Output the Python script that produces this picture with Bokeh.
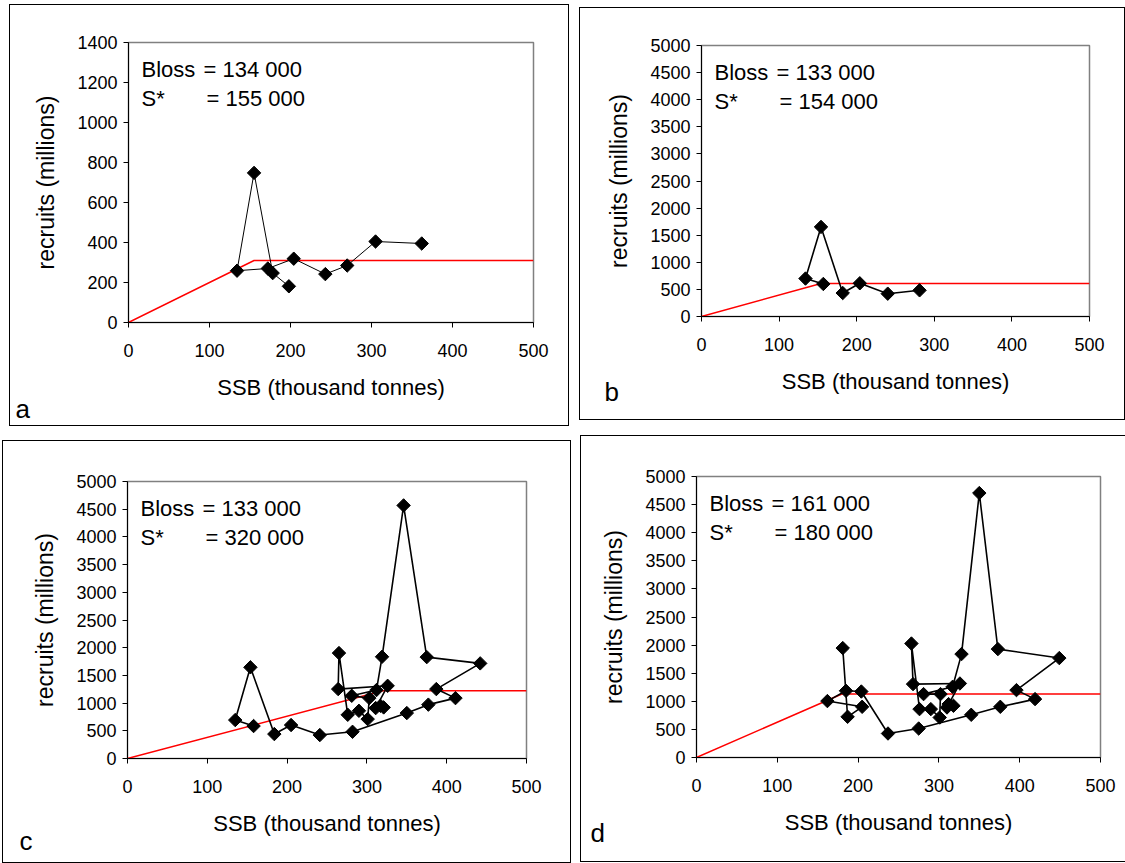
from bokeh.plotting import figure
from bokeh.models import Range1d, Label, FixedTicker, Spacer
from bokeh.layouts import column, row
from bokeh.embed import file_html
from bokeh.resources import INLINE

FONT = "Liberation Sans"

# ---------------- data ----------------
X_TICKS = [0, 100, 200, 300, 400, 500]
A_Y_TICKS = [0, 200, 400, 600, 800, 1000, 1200, 1400]
BCD_Y_TICKS = [0, 500, 1000, 1500, 2000, 2500, 3000, 3500, 4000, 4500, 5000]

A_SSB = [198, 178, 155, 134, 172, 204, 243, 270, 305, 362]
A_REC = [181, 247, 748, 259, 270, 319, 242, 285, 405, 395]

B_SSB = [157, 134, 154, 182, 204, 240, 281]
B_REC = [600, 700, 1653, 433, 613, 421, 483]

C_SSB = [158, 135, 154, 184, 205, 241, 282, 350, 377, 411, 387, 442, 375, 346, 319,
         312, 281, 303, 301, 290, 276, 265, 264, 326, 311, 321, 317]
C_REC = [586, 694, 1646, 441, 604, 423, 482, 820, 972, 1090, 1253, 1717, 1830, 4568, 1836,
         1235, 1132, 1090, 711, 861, 789, 1903, 1253, 1312, 910, 922, 951]

D_SSB = [181, 187, 205, 162, 185, 204, 237, 275, 340, 376, 419, 396, 449, 373, 350,
         328, 317, 281, 302, 301, 290, 276, 266, 268, 326, 310, 318, 312]
D_REC = [1947, 724, 902, 1004, 1187, 1174, 427, 516, 760, 902, 1039, 1199, 1769, 1929, 4705,
         1840, 1258, 1128, 1128, 712, 861, 861, 2028, 1306, 1317, 890, 920, 950]

# hockey-stick reference line: S* (breakpoint) and plateau level
SSTAR = [155, 154, 320, 180]
PLATEAU = [310, 610, 1222, 1130]

BLOSS_TXT = ["= 134 000", "= 133 000", "= 133 000", "= 161 000"]
SSTAR_TXT = ["= 155 000", "= 154 000", "= 320 000", "= 180 000"]
LETTERS = ["a", "b", "c", "d"]

X_LABEL = "SSB (thousand tonnes)"
Y_LABEL = "recruits (millions)"


def make_panel(i, ssb, rec, yticks, bl, bt, fw, fh, br, bb, lw, letter_xy):
    p = figure(frame_width=fw, frame_height=fh,
               min_border_left=bl, min_border_top=bt, min_border_right=br, min_border_bottom=bb,
               x_range=Range1d(X_TICKS[0], X_TICKS[-1]),
               y_range=Range1d(yticks[0], yticks[-1]),
               output_backend="svg", toolbar_location=None)
    # panel box, drawn just outside the canvas so the canvas cannot cover it
    p.styles = {"outline": "1px solid #000000", "outline-offset": "0px"}
    p.background_fill_color = "white"
    p.border_fill_color = "white"
    p.outline_line_color = "#808080"
    p.outline_line_width = 1.5
    p.grid.visible = False

    for ax in (p.xaxis[0], p.yaxis[0]):
        ax.axis_line_color = "black"
        ax.axis_line_width = 1
        ax.major_tick_line_color = "black"
        ax.major_tick_in = 0
        ax.major_tick_out = 5
        ax.minor_tick_in = 0
        ax.minor_tick_out = 0
        ax.major_label_text_font = FONT
        ax.major_label_text_font_size = "18px"
        ax.major_label_text_color = "black"
        ax.axis_label_text_font = FONT
        ax.axis_label_text_font_style = "normal"
        ax.axis_label_text_color = "black"

    p.xaxis.axis_label_text_font_size = "22px"
    p.yaxis.axis_label_text_font_size = "23px"
    p.xaxis.ticker = FixedTicker(ticks=X_TICKS)
    p.yaxis.ticker = FixedTicker(ticks=yticks)
    p.xaxis.axis_label = X_LABEL
    p.yaxis.axis_label = Y_LABEL
    p.xaxis.major_label_standoff = 16
    p.xaxis.axis_label_standoff = 15
    p.yaxis.major_label_standoff = 6
    p.yaxis.axis_label_standoff = 15

    # red hockey-stick line
    p.line([0, SSTAR[i], X_TICKS[-1]], [0, PLATEAU[i], PLATEAU[i]],
           line_color="#FF0000", line_width=1.5)
    # stock-recruit trajectory
    p.line(ssb, rec, line_color="black", line_width=lw)
    p.scatter(ssb, rec, marker="square", angle=0.785398, size=9.5,
              fill_color="black", line_color="black")

    txt = dict(x_units="screen", y_units="screen", text_font=FONT,
               text_font_size="22px", text_color="black", text_baseline="alphabetic")
    p.add_layout(Label(x=13, y=fh - 27, text="Bloss", **txt))
    p.add_layout(Label(x=13 + 62, y=fh - 27, text=BLOSS_TXT[i], **txt))
    p.add_layout(Label(x=13, y=fh - 56, text="S*", **txt))
    p.add_layout(Label(x=13 + 65, y=fh - 56, text=SSTAR_TXT[i], **txt))

    # panel letter, placed in the left side panel so that it is not clipped by the frame
    p.add_layout(Label(x=letter_xy[0], y=letter_xy[1], text=LETTERS[i], x_units="screen",
                       y_units="screen", text_font=FONT, text_font_size="26px",
                       text_color="black", text_baseline="alphabetic"), "left")
    return p


# plots in one row share top/bottom borders, so these are equal within a row
pa = make_panel(0, A_SSB, A_REC, A_Y_TICKS, 118, 37, 405, 280, 35, 103, 1.0, (-1, -86))
pb = make_panel(1, B_SSB, B_REC, BCD_Y_TICKS, 121, 37, 388, 271, 35, 103, 1.6, (15, -75))
pc = make_panel(2, C_SSB, C_REC, BCD_Y_TICKS, 124, 40, 399, 277, 44, 104, 1.6, (3, -82))
pd = make_panel(3, D_SSB, D_REC, BCD_Y_TICKS, 115, 40, 404, 281, 25, 104, 1.6, (6, -75))

row1 = row(Spacer(width=10, height=1), column(Spacer(width=1, height=5), pa),
           Spacer(width=12, height=1), column(Spacer(width=1, height=8), pb))
row2 = row(Spacer(width=3, height=1), column(Spacer(width=1, height=16), pc),
           Spacer(width=11, height=1), column(Spacer(width=1, height=11), pd))
layout = column(row1, row2)

open("out.html", "w").write(file_html(layout, INLINE))
